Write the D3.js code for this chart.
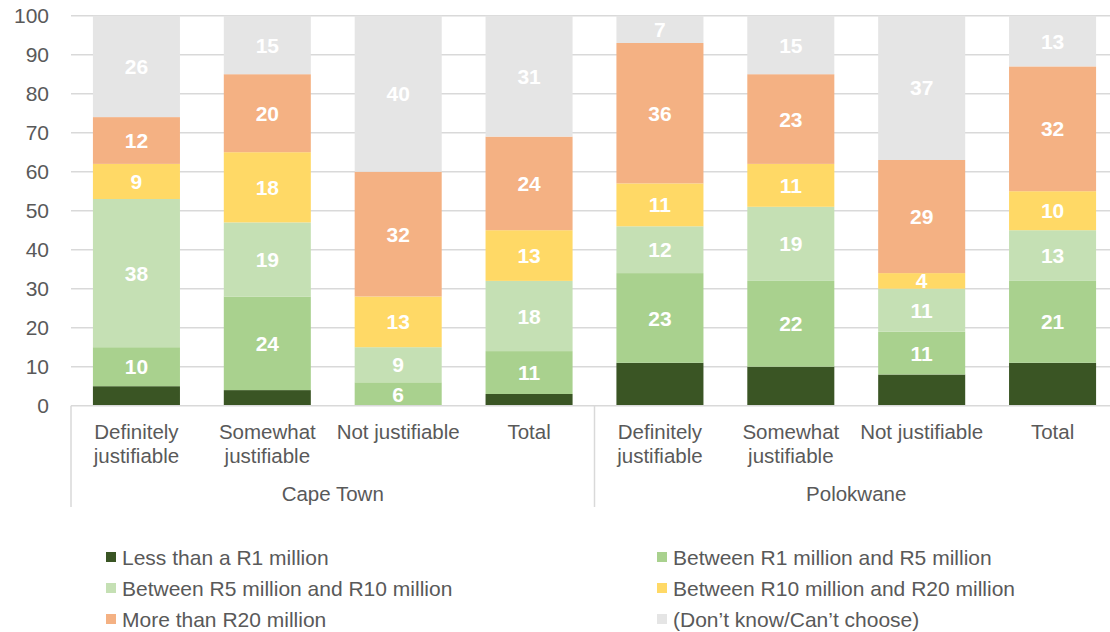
<!DOCTYPE html>
<html>
<head>
<meta charset="utf-8">
<script src="https://cdn.jsdelivr.net/npm/d3@7"></script>
<style>
  html, body { margin: 0; padding: 0; background: #fff; }
  svg { display: block; font-family: "Liberation Sans", Arial, sans-serif; }
</style>
</head>
<body>
<svg id="chart" width="1110" height="632"></svg>
<script>
// Categories (inner level) and their city groups (outer level)
const categories = ["Definitely\njustifiable", "Somewhat\njustifiable", "Not justifiable", "Total",
                    "Definitely\njustifiable", "Somewhat\njustifiable", "Not justifiable", "Total"];
const groups = ["Cape Town", "Cape Town", "Cape Town", "Cape Town",
                "Polokwane", "Polokwane", "Polokwane", "Polokwane"];
const groupNames = ["Cape Town", "Polokwane"];

// Percent shares per category, one array per series
const lessThanR1   = [5, 4, 0, 3, 11, 10, 8, 11];
const r1ToR5       = [10, 24, 6, 11, 23, 22, 11, 21];
const r5ToR10      = [38, 19, 9, 18, 12, 19, 11, 13];
const r10ToR20     = [9, 18, 13, 13, 11, 11, 4, 10];
const moreThanR20  = [12, 20, 32, 24, 36, 23, 29, 32];
const dontKnow     = [26, 15, 40, 31, 7, 15, 37, 13];

const seriesNames = ["Less than a R1 million", "Between R1 million and R5 million",
                     "Between R5 million and R10 million", "Between R10 million and R20 million",
                     "More than R20 million", "(Don\u2019t know/Can\u2019t choose)"];
const seriesValues = [lessThanR1, r1ToR5, r5ToR10, r10ToR20, moreThanR20, dontKnow];
const seriesColors = ["#3a5524", "#a9d18e", "#c5e0b4", "#ffd966", "#f4b183", "#e5e5e5"];
const showLabel = [false, true, true, true, true, true];

const yTicks = [0, 10, 20, 30, 40, 50, 60, 70, 80, 90, 100];

// Table for the stack layout
const keys = seriesNames.map((_, i) => "s" + i);
const table = categories.map((c, j) => {
  const row = { idx: j };
  keys.forEach((k, i) => row[k] = seriesValues[i][j]);
  return row;
});

const svg = d3.select("#chart");
const plotLeft = 71, plotRight = 1118, plotTop = 15.7, plotBottom = 405.7;
const textColor = "#595959";
const gridColor = "#d9d9d9";

const x = d3.scaleBand()
  .domain(d3.range(categories.length))
  .range([plotLeft, plotRight])
  .paddingInner(0.335)
  .paddingOuter(0.1675);

const y = d3.scaleLinear().domain([0, 100]).range([plotBottom, plotTop]);

// Gridlines
svg.append("g")
  .selectAll("line")
  .data(yTicks.filter(t => t > 0))
  .join("line")
  .attr("x1", plotLeft).attr("x2", plotRight)
  .attr("y1", d => y(d)).attr("y2", d => y(d))
  .attr("stroke", gridColor).attr("stroke-width", 1.5);

// Y axis tick labels
const yAxis = d3.axisLeft(y).tickValues(yTicks).tickSize(0).tickPadding(0);
const yg = svg.append("g").attr("transform", `translate(49,0)`).call(yAxis);
yg.select(".domain").remove();
yg.selectAll("text")
  .attr("fill", textColor)
  .attr("font-size", 21)
  .attr("font-family", "'Liberation Sans', Arial, sans-serif");

// Stacked bars
const stacked = d3.stack().keys(keys)(table);
const layers = svg.append("g")
  .selectAll("g")
  .data(stacked)
  .join("g")
  .attr("fill", (d, i) => seriesColors[i]);

layers.selectAll("rect")
  .data(d => d)
  .join("rect")
  .attr("x", d => x(d.data.idx))
  .attr("width", x.bandwidth())
  .attr("y", d => y(d[1]))
  .attr("height", d => y(d[0]) - y(d[1]));

// Value labels
stacked.forEach((layer, i) => {
  if (!showLabel[i]) return;
  svg.append("g")
    .selectAll("text")
    .data(layer.filter(d => d[1] - d[0] > 0))
    .join("text")
    .attr("x", d => x(d.data.idx) + x.bandwidth() / 2)
    .attr("y", d => y((d[0] + d[1]) / 2))
    .attr("dy", "0.36em")
    .attr("text-anchor", "middle")
    .attr("fill", "#ffffff")
    .attr("font-weight", "bold")
    .attr("font-size", 21)
    .text(d => d[1] - d[0]);
});

// Category axis baseline
svg.append("line")
  .attr("x1", plotLeft).attr("x2", plotRight)
  .attr("y1", plotBottom).attr("y2", plotBottom)
  .attr("stroke", gridColor).attr("stroke-width", 1.5);

// Group separators
const step = x.step();
const sepX = [plotLeft, plotLeft + step * 4, plotRight];
svg.append("g")
  .selectAll("line")
  .data(sepX)
  .join("line")
  .attr("x1", d => d).attr("x2", d => d)
  .attr("y1", plotBottom).attr("y2", 507)
  .attr("stroke", gridColor).attr("stroke-width", 1.5);

// Category labels (may wrap onto two lines)
const catG = svg.append("g")
  .selectAll("text")
  .data(categories)
  .join("text")
  .attr("x", (d, i) => x(i) + x.bandwidth() / 2)
  .attr("y", 439)
  .attr("text-anchor", "middle")
  .attr("fill", textColor)
  .attr("font-size", 20.5);
catG.each(function(d, i) {
  const t = d3.select(this);
  d.split("\n").forEach((line, k) => {
    t.append("tspan")
      .attr("x", x(i) + x.bandwidth() / 2)
      .attr("dy", k === 0 ? 0 : 24)
      .text(line);
  });
});

// Group labels
svg.append("g")
  .selectAll("text")
  .data(groupNames)
  .join("text")
  .attr("x", g => {
    const idx = groups.map((v, i) => v === g ? i : -1).filter(i => i >= 0);
    return (x(idx[0]) + x(idx[idx.length - 1]) + x.bandwidth()) / 2;
  })
  .attr("y", 501)
  .attr("text-anchor", "middle")
  .attr("fill", textColor)
  .attr("font-size", 20.5)
  .text(g => g);

// Legend: two columns, three rows
const legendCols = [106, 657];
const legendRows = [557, 588, 619];
const legend = svg.append("g")
  .selectAll("g")
  .data(seriesNames)
  .join("g")
  .attr("transform", (d, i) => `translate(${legendCols[i % 2]},${legendRows[Math.floor(i / 2)]})`);
legend.append("rect")
  .attr("x", 0).attr("y", -5)
  .attr("width", 10).attr("height", 10)
  .attr("fill", (d, i) => seriesColors[i]);
legend.append("text")
  .attr("x", 16).attr("y", 0)
  .attr("dy", "0.36em")
  .attr("fill", textColor)
  .attr("font-size", 21)
  .text(d => d);
</script>
</body>
</html>
